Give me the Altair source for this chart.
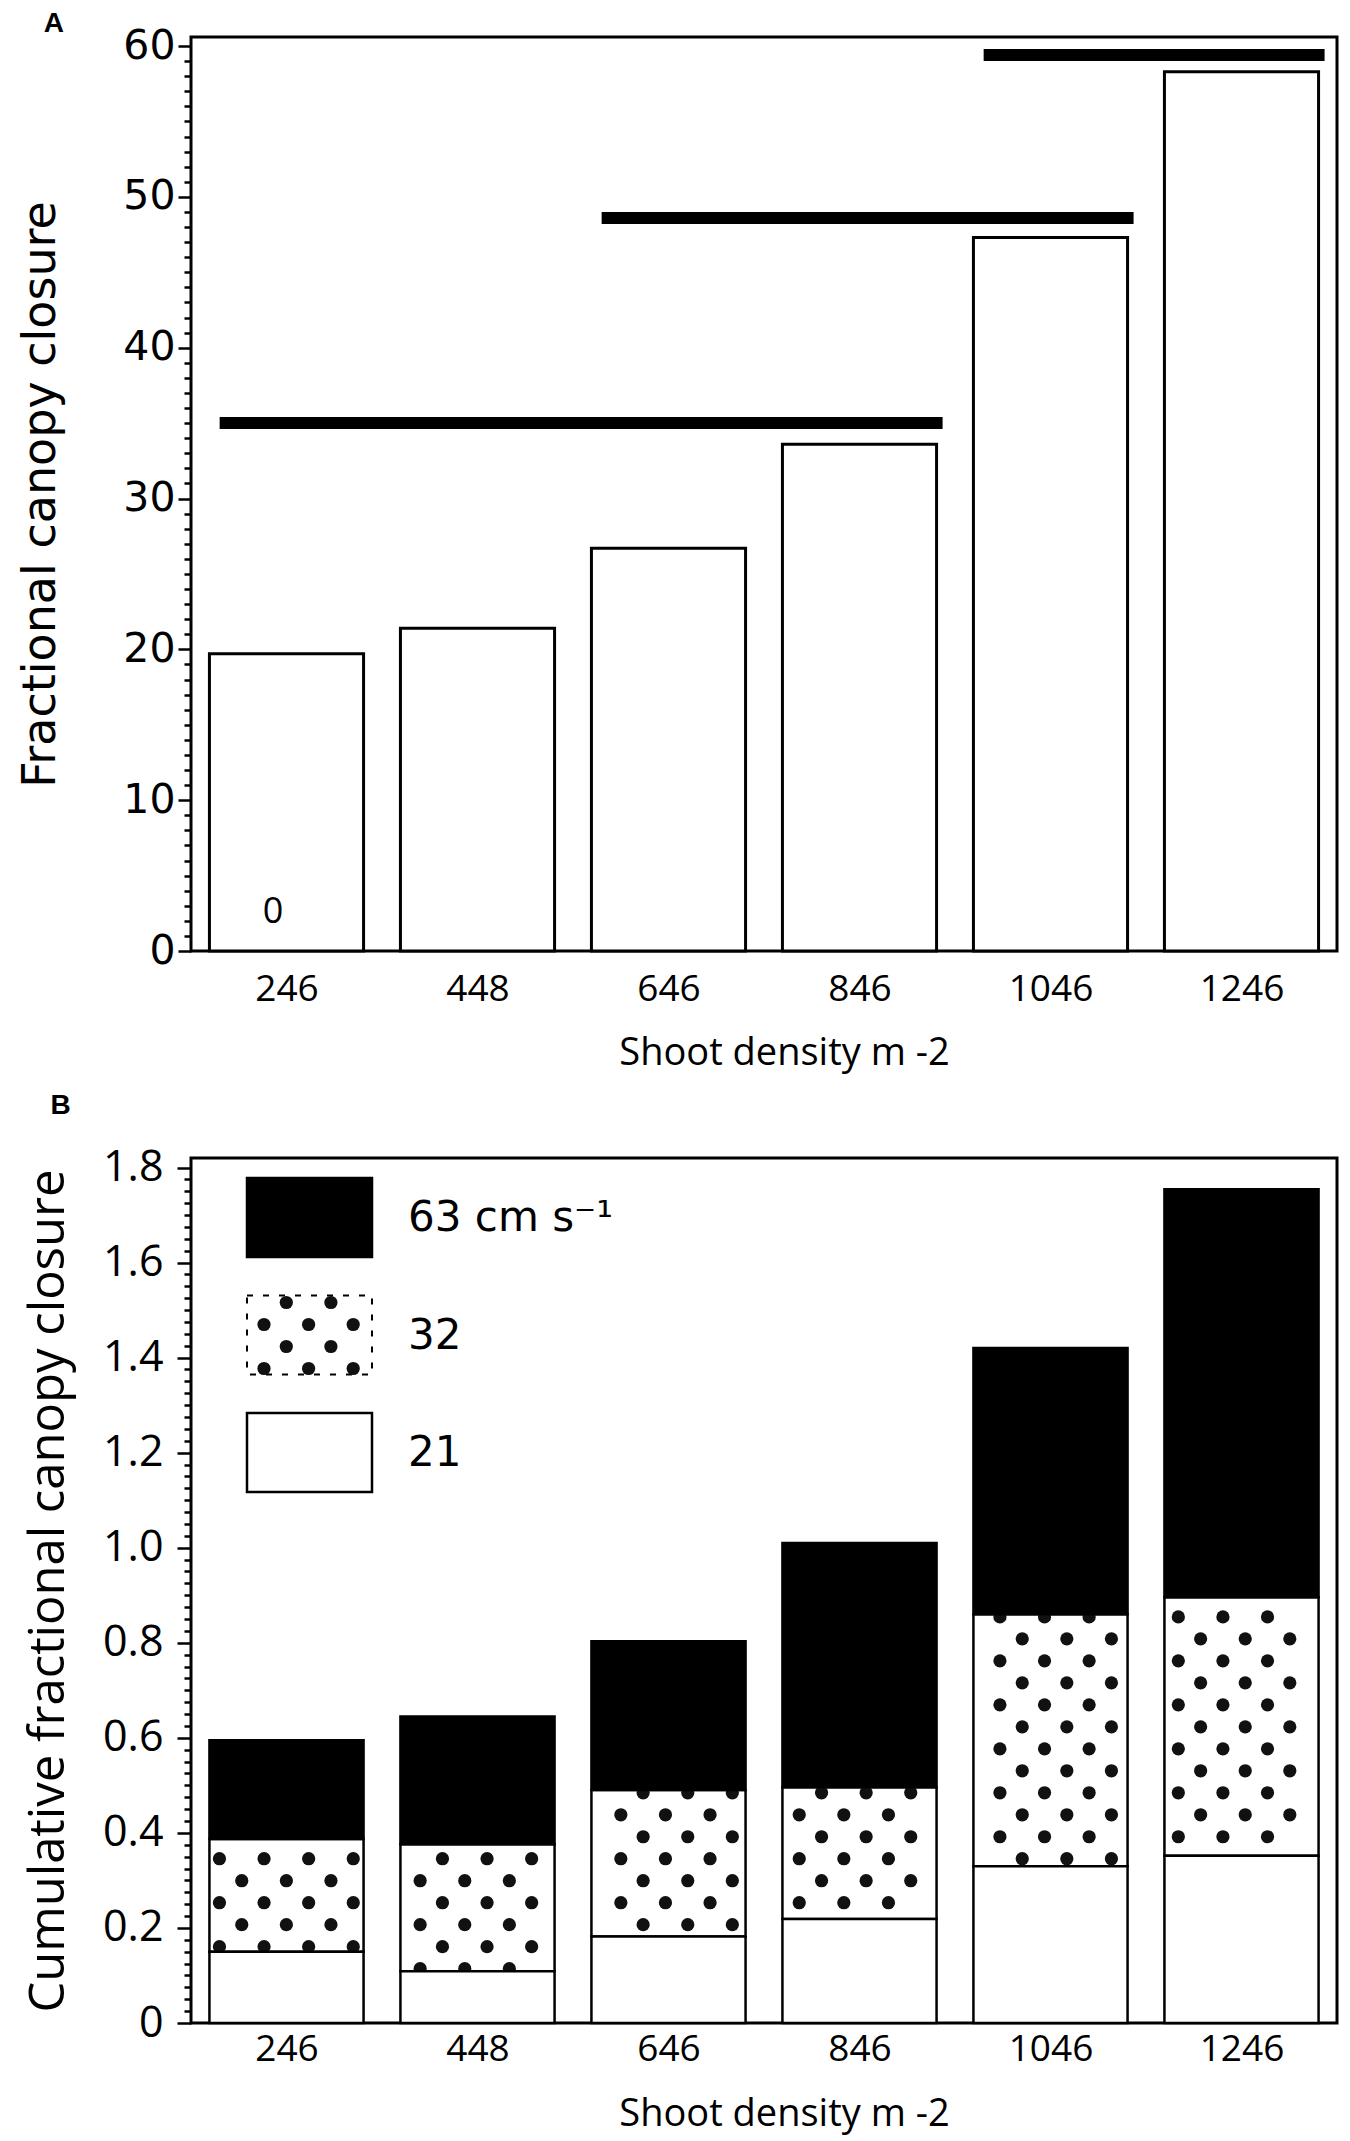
import json
import altair as alt
import pandas as pd

# ---------------- data ----------------
categories = ["246", "448", "646", "846", "1046", "1246"]

# Panel A: fractional canopy closure (%)
closure_a = [19.7, 21.4, 26.7, 33.6, 47.3, 58.3]
sig_from = ["246", "646", "1046"]
sig_to = ["846", "1046", "1246"]
sig_level = [35.0, 48.6, 59.4]
note_cat = ["246"]
note_text = ["0"]
note_y = [2.6]

# Panel B: cumulative fractional canopy closure (stack tops)
speeds = ["63", "32", "21"]
speed_labels = ["63 cm s\u207b\u00b9", "32", "21"]
top_21 = [0.150, 0.109, 0.182, 0.219, 0.330, 0.352]
top_32 = [0.387, 0.376, 0.490, 0.496, 0.860, 0.896]
top_63 = [0.595, 0.645, 0.803, 1.010, 1.420, 1.754]

# ---------------- tables ----------------
idx_of = {c: i for i, c in enumerate(categories)}
df_a = pd.DataFrame({"density": categories, "idx": list(range(len(categories))), "closure": closure_a})
df_sig = pd.DataFrame({"i0": [idx_of[c] for c in sig_from], "i1": [idx_of[c] for c in sig_to], "level": sig_level})
df_note = pd.DataFrame({"idx": [idx_of[c] for c in note_cat], "label": note_text, "ny": note_y})

rows = []
for i, c in enumerate(categories):
    rows.append({"density": c, "idx": i, "speed": "21", "lo": 0.0, "hi": top_21[i]})
    rows.append({"density": c, "idx": i, "speed": "32", "lo": top_21[i], "hi": top_32[i]})
    rows.append({"density": c, "idx": i, "speed": "63", "lo": top_32[i], "hi": top_63[i]})
df_b = pd.DataFrame(rows)
df_leg = pd.DataFrame({"speed": speeds, "label": speed_labels, "row": [0, 1, 2]})

# ---------------- layout constants ----------------
W = 1146
HA = 914
HB = 865
HW = 0.4035          # half bar width, in category units
DOT = 175            # dot area (px^2)
xscale = alt.Scale(domain=[-0.5, 5.5], nice=False, zero=False)
label_expr = json.dumps(categories) + "[datum.value]"


def x_axis(label_pad, title_pad):
    return alt.Axis(values=list(range(len(categories))), labelExpr=label_expr, ticks=False,
                    domain=False, grid=False, labelAngle=0, labelOverlap=False,
                    labelFont="Open Sans", labelFontSize=37, labelColor="black", labelPadding=label_pad,
                    title="Shoot density m -2", titleFont="Open Sans", titleFontSize=38,
                    titleFontWeight="normal", titleColor="black", titlePadding=title_pad,
                    titleX=W / 2 + 20)


ya_values = list(range(0, 61))
y_axis_a = alt.Axis(values=ya_values, labelExpr="datum.value % 10 === 0 ? datum.label : ''",
                    tickSize={"condition": {"test": "datum.value % 10 === 0", "value": 13}, "value": 7},
                    tickWidth=2.5, tickColor="black", domain=False, grid=False, labelOverlap=False,
                    labelFont="DejaVu Sans", labelFontSize=41, labelPadding=3, labelColor="black",
                    title="Fractional  canopy closure", titleFont="DejaVu Sans", titleFontSize=46,
                    titleFontWeight="normal", titleColor="black", titlePadding=58)

yb_values = [round(i * 0.025, 3) for i in range(73)]
major_b = "abs(datum.value*5 - round(datum.value*5)) < 1e-6"
y_axis_b = alt.Axis(values=yb_values,
                    labelExpr=f"{major_b} ? (datum.value === 0 ? '0' : format(datum.value, '.1f')) : ''",
                    tickSize={"condition": {"test": major_b, "value": 14}, "value": 7},
                    tickWidth=2.5, tickColor="black", domain=False, grid=False, labelOverlap=False,
                    labelFont="Open Sans", labelFontSize=43, labelPadding=14, labelColor="black",
                    title="Cumulative fractional canopy closure", titleFont="Open Sans", titleFontSize=49,
                    titleFontWeight="normal", titleColor="black", titlePadding=29)

ya_scale = alt.Scale(domain=[0, 60.6], nice=False, zero=True)
yb_scale = alt.Scale(domain=[0, 1.82], nice=False, zero=True)
xa_axis = x_axis(20, 27)
xb_axis = x_axis(8, 28)

# ---------------- panel A ----------------
bars_a = alt.Chart(df_a).transform_calculate(
    x0=f"datum.idx - {HW}"
).transform_calculate(
    x1=f"datum.idx + {HW}"
).mark_rect(fill="white", stroke="black", strokeWidth=3).encode(
    x=alt.X("x0:Q", scale=xscale, axis=xa_axis),
    x2="x1:Q",
    y=alt.Y("closure:Q", scale=ya_scale, axis=y_axis_a),
    y2=alt.datum(0),
)

sig_a = alt.Chart(df_sig).transform_calculate(
    xs="datum.i0 - 0.35"
).transform_calculate(
    xe="datum.i1 + 0.435"
).mark_rule(color="black", strokeWidth=12).encode(
    x=alt.X("xs:Q", scale=xscale, axis=xa_axis),
    x2="xe:Q",
    y=alt.Y("level:Q", scale=ya_scale, axis=y_axis_a),
)

note_a = alt.Chart(df_note).transform_calculate(
    xn="datum.idx - 0.07"
).mark_text(font="Open Sans", fontSize=36, color="black", baseline="middle", align="center").encode(
    x=alt.X("xn:Q", scale=xscale, axis=xa_axis),
    y=alt.Y("ny:Q", scale=ya_scale, axis=y_axis_a),
    text="label:N",
)

title_style = dict(anchor="start", frame="bounds", font="Liberation Sans", fontWeight="bold",
                   fontSize=28, color="black")

chart_a = alt.layer(bars_a, sig_a, note_a).properties(
    width=W, height=HA,
    title=alt.TitleParams("A", offset=-13, dx=26, **title_style),
)


# ---------------- dot pattern helper ----------------
def add_dots(ch, x0, x1, y0, y1, X0, P, Y0, R, mx):
    return (ch.transform_calculate(jr=f"sequence(ceil(({y0} - ({Y0}))/{R}), floor(({y1} - ({Y0}))/{R}) + 1)")
              .transform_flatten(["jr"], as_=["j"])
              .transform_calculate(sh="abs(datum.j) % 2 === 0 ? 0.5 : 0")
              .transform_calculate(yy=f"({Y0}) + datum.j*{R}")
              .transform_calculate(kr=f"sequence(ceil(({x0} + {mx} - ({X0}))/{P} - datum.sh), "
                                      f"floor(({x1} - {mx} - ({X0}))/{P} - datum.sh) + 1)")
              .transform_flatten(["kr"], as_=["k"])
              .transform_calculate(xx=f"({X0}) + (datum.k + datum.sh)*{P}"))


# ---------------- panel B ----------------
base_b = alt.Chart(df_b).transform_calculate(
    x0=f"datum.idx - {HW}"
).transform_calculate(
    x1=f"datum.idx + {HW}"
)

xenc_b = alt.X("x0:Q", scale=xscale, axis=xb_axis)
yenc_b = alt.Y("hi:Q", scale=yb_scale, axis=y_axis_b)

dotted_b = base_b.transform_filter("datum.speed === '32'").mark_rect(
    fill="white", stroke="black", strokeWidth=2.5
).encode(x=xenc_b, x2="x1:Q", y=yenc_b, y2="lo:Q")

dots_b = add_dots(
    base_b.transform_filter("datum.speed === '32'"),
    "datum.x0", "datum.x1", "datum.lo", "datum.hi",
    "-0.351", 0.2335, "0.0218", 0.04626, 0.038,
).mark_circle(size=DOT, color="#111111", opacity=1).encode(
    x=alt.X("xx:Q", scale=xscale, axis=xb_axis),
    y=alt.Y("yy:Q", scale=yb_scale, axis=y_axis_b),
)

white_b = base_b.transform_filter("datum.speed === '21'").mark_rect(
    fill="white", stroke="black", strokeWidth=2.5
).encode(x=xenc_b, x2="x1:Q", y=yenc_b, y2="lo:Q")

black_b = base_b.transform_filter("datum.speed === '63'").mark_rect(
    fill="black", stroke="black", strokeWidth=2.5
).encode(x=xenc_b, x2="x1:Q", y=yenc_b, y2="lo:Q")

# legend (drawn in pixel space inside the plot)
leg_base = alt.Chart(df_leg).transform_calculate(
    lx0="56"
).transform_calculate(
    lx1="181"
).transform_calculate(
    ly0="20 + datum.row*117.5"
).transform_calculate(
    ly1="datum.ly0 + 79"
).transform_calculate(
    lyc="datum.ly0 + 40"
).transform_calculate(
    lxt="217"
)

leg_solid = leg_base.transform_filter("datum.row !== 1").mark_rect(stroke="black", strokeWidth=2.5).encode(
    x=alt.X("lx0:Q", scale=None), x2="lx1:Q",
    y=alt.Y("ly0:Q", scale=None), y2="ly1:Q",
    fill=alt.Fill("speed:N", scale=alt.Scale(domain=speeds, range=["black", "white", "white"]), legend=None),
)
leg_dotted = leg_base.transform_filter("datum.row === 1").mark_rect(
    fill="white", stroke="black", strokeWidth=2, strokeDash=[6, 10]
).encode(
    x=alt.X("lx0:Q", scale=None), x2="lx1:Q",
    y=alt.Y("ly0:Q", scale=None), y2="ly1:Q",
)
leg_dots = add_dots(
    leg_base.transform_filter("datum.row === 1"),
    "datum.lx0", "datum.lx1", "datum.ly0", "datum.ly1",
    "datum.lx0 + 17", 44.6, "datum.ly0 + 7", 22, 6,
).mark_circle(size=DOT, color="#111111", opacity=1).encode(
    x=alt.X("xx:Q", scale=None),
    y=alt.Y("yy:Q", scale=None),
)
leg_text = leg_base.mark_text(font="DejaVu Sans", fontSize=42, color="black", align="left",
                              baseline="middle").encode(
    x=alt.X("lxt:Q", scale=None),
    y=alt.Y("lyc:Q", scale=None),
    text="label:N",
)

chart_b = alt.layer(dotted_b, dots_b, white_b, black_b, leg_dotted, leg_dots, leg_solid, leg_text).properties(
    width=W, height=HB,
    title=alt.TitleParams("B", offset=27, dx=26, **title_style),
)

chart = alt.vconcat(chart_a, chart_b, spacing=207, bounds="flush").properties(
    padding={"left": 8, "top": 0, "right": 0, "bottom": 0}, background="white"
).configure_view(
    stroke="black", strokeWidth=3
)

chart.save("out.html", embed_options={"renderer": "svg", "actions": False})
